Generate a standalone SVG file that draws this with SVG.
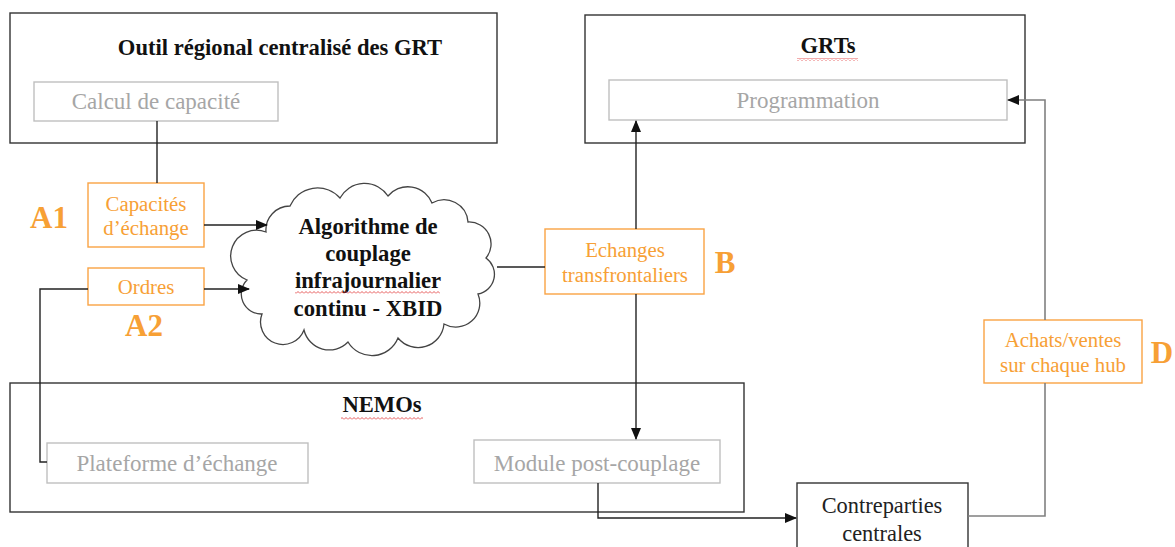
<svg xmlns="http://www.w3.org/2000/svg" width="1175" height="547" viewBox="0 0 1175 547">
<style>
  .box{fill:#fff;stroke:#333;stroke-width:1.4}
  .gbox{fill:#fff;stroke:#BFBFBF;stroke-width:1.4}
  .obox{fill:#fff;stroke:#F9A344;stroke-width:1.4}
  text{font-family:"Liberation Serif","Times New Roman",serif;text-anchor:middle}
  .ttl{font-size:22.6px;font-weight:bold;fill:#111}
  .gt{font-size:23px;fill:#A6A6A6}
  .ot{font-size:20.8px;fill:#F7A035}
  .big{font-size:31px;font-weight:bold;fill:#F7A035}
  .bt{font-size:22.4px;fill:#222}
  .cl{font-size:22.7px;font-weight:bold;fill:#111}
  .ln{fill:none;stroke:#222;stroke-width:1.4}
  .gl{fill:none;stroke:#808080;stroke-width:1.6}
</style>
<defs>
  <marker id="arr" markerWidth="12" markerHeight="10" refX="11" refY="5" orient="auto" markerUnits="userSpaceOnUse">
    <path d="M0,0 L12,5 L0,10 Z" fill="#111"/>
  </marker>
  <pattern id="sq" width="4" height="3" patternUnits="userSpaceOnUse">
    <path d="M0,2.5 L2,0.5 L4,2.5" fill="none" stroke="#E03030" stroke-width="0.8"/>
  </pattern>
</defs>

<g id="outil">
  <rect class="box" x="10" y="13" width="487" height="130"/>
  <text class="ttl" x="280" y="55">Outil régional centralisé des GRT</text>
</g>
<g id="calcul">
  <rect class="gbox" x="34" y="82" width="244" height="39"/>
  <text class="gt" x="156" y="109">Calcul de capacité</text>
</g>
<g id="grts">
  <rect class="box" x="585" y="15" width="440" height="128"/>
  <text class="ttl" x="828" y="53">GRTs</text>
  <rect x="797" y="58" width="61" height="3" fill="url(#sq)"/>
</g>
<g id="programmation">
  <rect class="gbox" x="609" y="80" width="398" height="40"/>
  <text class="gt" x="808" y="108">Programmation</text>
</g>
<g id="capacites">
  <rect class="obox" x="88" y="183" width="116" height="64"/>
  <text class="ot" x="146" y="211">Capacités</text>
  <text class="ot" x="146" y="235">d’échange</text>
</g>
<g id="labelA1"><text class="big" x="49" y="228">A1</text></g>
<g id="ordres">
  <rect class="obox" x="88" y="268" width="116" height="37"/>
  <text class="ot" x="146" y="294">Ordres</text>
</g>
<g id="labelA2"><text class="big" x="144" y="336">A2</text></g>
<g id="xbid">
  <path d="M 266 232 A 24 24 0 0 1 290 206 A 30 30 0 0 1 340 198 A 28 28 0 0 1 388 196 A 26 26 0 0 1 432 203 A 24 24 0 0 1 468 222 A 22 22 0 0 1 486 258 A 20 20 0 0 1 478 294 A 24 24 0 0 1 444 324 A 26 26 0 0 1 398 338 A 28 28 0 0 1 348 342 A 26 26 0 0 1 304 330 A 22 22 0 0 1 262 314 A 20 20 0 0 1 247 280 A 22 22 0 0 1 266 232 Z" fill="#fff" stroke="#444" stroke-width="1.3"/>
  <text class="cl" x="368" y="234">Algorithme de</text>
  <text class="cl" x="368" y="261">couplage</text>
  <text class="cl" x="368" y="288">infrajournalier</text>
  <rect x="295" y="291" width="145" height="3" fill="url(#sq)"/>
  <text class="cl" x="368" y="316">continu - XBID</text>
</g>
<g id="echanges">
  <rect class="obox" x="545" y="229" width="159" height="65"/>
  <text class="ot" x="625" y="257">Echanges</text>
  <text class="ot" x="625" y="282">transfrontaliers</text>
</g>
<g id="labelB"><text class="big" x="725" y="273">B</text></g>
<g id="nemos">
  <rect class="box" x="10" y="383" width="734" height="129"/>
  <text class="ttl" x="382" y="412">NEMOs</text>
  <rect x="341" y="417" width="82" height="3" fill="url(#sq)"/>
</g>
<g id="plateforme">
  <rect class="gbox" x="47" y="443" width="261" height="40"/>
  <text class="gt" x="177" y="471">Plateforme d’échange</text>
</g>
<g id="module">
  <rect class="gbox" x="474" y="440" width="246" height="43"/>
  <text class="gt" x="597" y="471">Module post-couplage</text>
</g>
<g id="contreparties">
  <rect class="box" x="797" y="483" width="171" height="70"/>
  <text class="bt" x="882" y="513">Contreparties</text>
  <text class="bt" x="882" y="541">centrales</text>
</g>
<g id="achats">
  <rect class="obox" x="984" y="320" width="158" height="63"/>
  <text class="ot" x="1063" y="347">Achats/ventes</text>
  <text class="ot" x="1063" y="372">sur chaque hub</text>
</g>
<g id="labelD"><text class="big" x="1162" y="363">D</text></g>

<g id="connectors">
  <line class="ln" x1="157" y1="121" x2="157" y2="183"/>
  <line class="ln" x1="204" y1="225" x2="267" y2="225" marker-end="url(#arr)"/>
  <line class="ln" x1="204" y1="289" x2="249" y2="289" marker-end="url(#arr)"/>
  <polyline class="ln" points="47,462 40,462 40,289 88,289"/>
  <line class="ln" x1="497" y1="267" x2="545" y2="267"/>
  <line class="ln" x1="636" y1="229" x2="636" y2="121" marker-end="url(#arr)"/>
  <line class="ln" x1="636" y1="294" x2="636" y2="439" marker-end="url(#arr)"/>
  <polyline class="ln" points="598,483 598,518 796,518" marker-end="url(#arr)"/>
  <polyline class="gl" points="968,516 1045,516 1045,383"/>
  <polyline class="gl" points="1045,320 1045,100 1008,100" marker-end="url(#arr)"/>
</g>
</svg>
